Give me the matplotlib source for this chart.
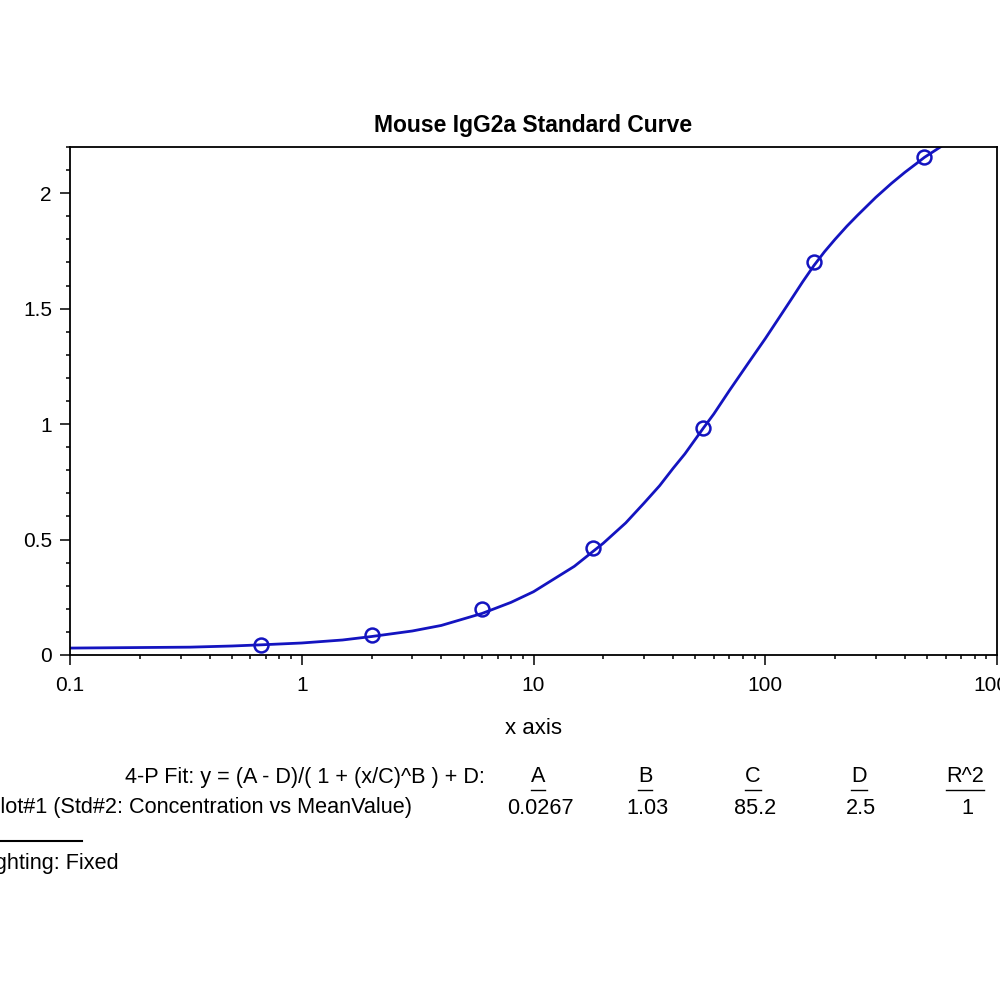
import numpy as np
import matplotlib
matplotlib.use('Agg')
import matplotlib.pyplot as plt
from matplotlib.ticker import FixedLocator, FixedFormatter, LogLocator, NullFormatter, MultipleLocator
from matplotlib.lines import Line2D

plt.rcParams['font.family'] = ['Liberation Sans', 'DejaVu Sans']

# standards (concentration vs mean value)
conc = [0.667, 2, 6, 18, 54, 162, 486]
mean_value = [0.045, 0.088, 0.200, 0.465, 0.982, 1.700, 2.155]

# fitted curve
curve_x = [0.1, 0.33, 0.5, 0.667, 1, 1.5, 2, 3, 4, 6, 8, 10, 15, 20, 25, 30, 35,
           40, 45, 54, 60, 70, 85, 100, 115, 130, 145, 162, 180, 200, 225, 250,
           300, 350, 400, 450, 486, 550, 600]
curve_y = [0.030, 0.034, 0.039, 0.044, 0.052, 0.065, 0.080, 0.104, 0.128, 0.180,
           0.228, 0.274, 0.384, 0.484, 0.572, 0.658, 0.733, 0.808, 0.871, 0.982,
           1.044, 1.145, 1.268, 1.370, 1.462, 1.543, 1.616, 1.686, 1.746, 1.800,
           1.857, 1.904, 1.982, 2.042, 2.090, 2.129, 2.155, 2.190, 2.215]

x_ticks = [0.1, 1, 10, 100, 1000]
x_ticklabels = ['0.1', '1', '10', '100', '1000']
y_ticks = [0, 0.5, 1, 1.5, 2]
y_ticklabels = ['0', '0.5', '1', '1.5', '2']

fit_label = '4-P Fit: y = (A - D)/( 1 + (x/C)^B ) + D:'
plot_label = 'Plot#1 (Std#2: Concentration vs MeanValue)'
param_names = ['A', 'B', 'C', 'D', 'R^2']
param_values = ['0.0267', '1.03', '85.2', '2.5', '1']
weighting = 'Weighting: Fixed'

blue = '#1414c0'

fig = plt.figure(figsize=(10, 10), dpi=100)
ax = fig.add_axes([0.070, 0.345, 0.927, 0.508])

ax.plot(curve_x, curve_y, color=blue, lw=2)
ax.plot(conc, mean_value, 'o', ms=10, mfc='none', mec=blue, mew=1.8)

ax.set_xscale('log')
ax.set_xlim(0.1, 1000)
ax.set_ylim(0, 2.2)
ax.xaxis.set_major_locator(FixedLocator(x_ticks))
ax.xaxis.set_major_formatter(FixedFormatter(x_ticklabels))
ax.xaxis.set_minor_locator(LogLocator(base=10, subs=np.arange(2, 10)))
ax.xaxis.set_minor_formatter(NullFormatter())
ax.yaxis.set_major_locator(FixedLocator(y_ticks))
ax.yaxis.set_major_formatter(FixedFormatter(y_ticklabels))
ax.yaxis.set_minor_locator(MultipleLocator(0.1))

ax.tick_params(which='major', direction='out', length=7, width=1.1, labelsize=15, pad=6)
ax.tick_params(which='major', axis='x', pad=8)
ax.tick_params(which='minor', direction='out', length=3, width=1.1)
for sp in ax.spines.values():
    sp.set_linewidth(1.3)

ax.set_title('Mouse IgG2a Standard Curve', fontsize=16.5, fontweight='bold', pad=11)
ax.set_xlabel('x axis', fontsize=16, labelpad=17)

# fit parameter table below the chart
fs = 15.6
fig.text(0.485, 1 - 0.777, fit_label, ha='right', va='center', fontsize=fs)
fig.text(0.412, 1 - 0.808, plot_label, ha='right', va='center', fontsize=fs)
col_x = [0.538, 0.645, 0.753, 0.859, 0.965]
heads = []
for cx, name, val in zip(col_x, param_names, param_values):
    heads.append(fig.text(cx, 1 - 0.777, name, ha='center', va='center', fontsize=fs))
    fig.text(cx + 0.002, 1 - 0.808, val, ha='center', va='center', fontsize=fs)
fig.add_artist(Line2D([0, 0.082], [1 - 0.841, 1 - 0.841], color='black', lw=1.5))
fig.text(0.119, 1 - 0.863, weighting, ha='right', va='center', fontsize=fs)

# underline the column headers
fig.canvas.draw()
r = fig.canvas.get_renderer()
for h in heads:
    bb = h.get_window_extent(r).transformed(fig.transFigure.inverted())
    fig.add_artist(Line2D([bb.x0, bb.x1], [bb.y0 - 0.002, bb.y0 - 0.002], color='black', lw=1))

fig.savefig('out.png', dpi=100)
